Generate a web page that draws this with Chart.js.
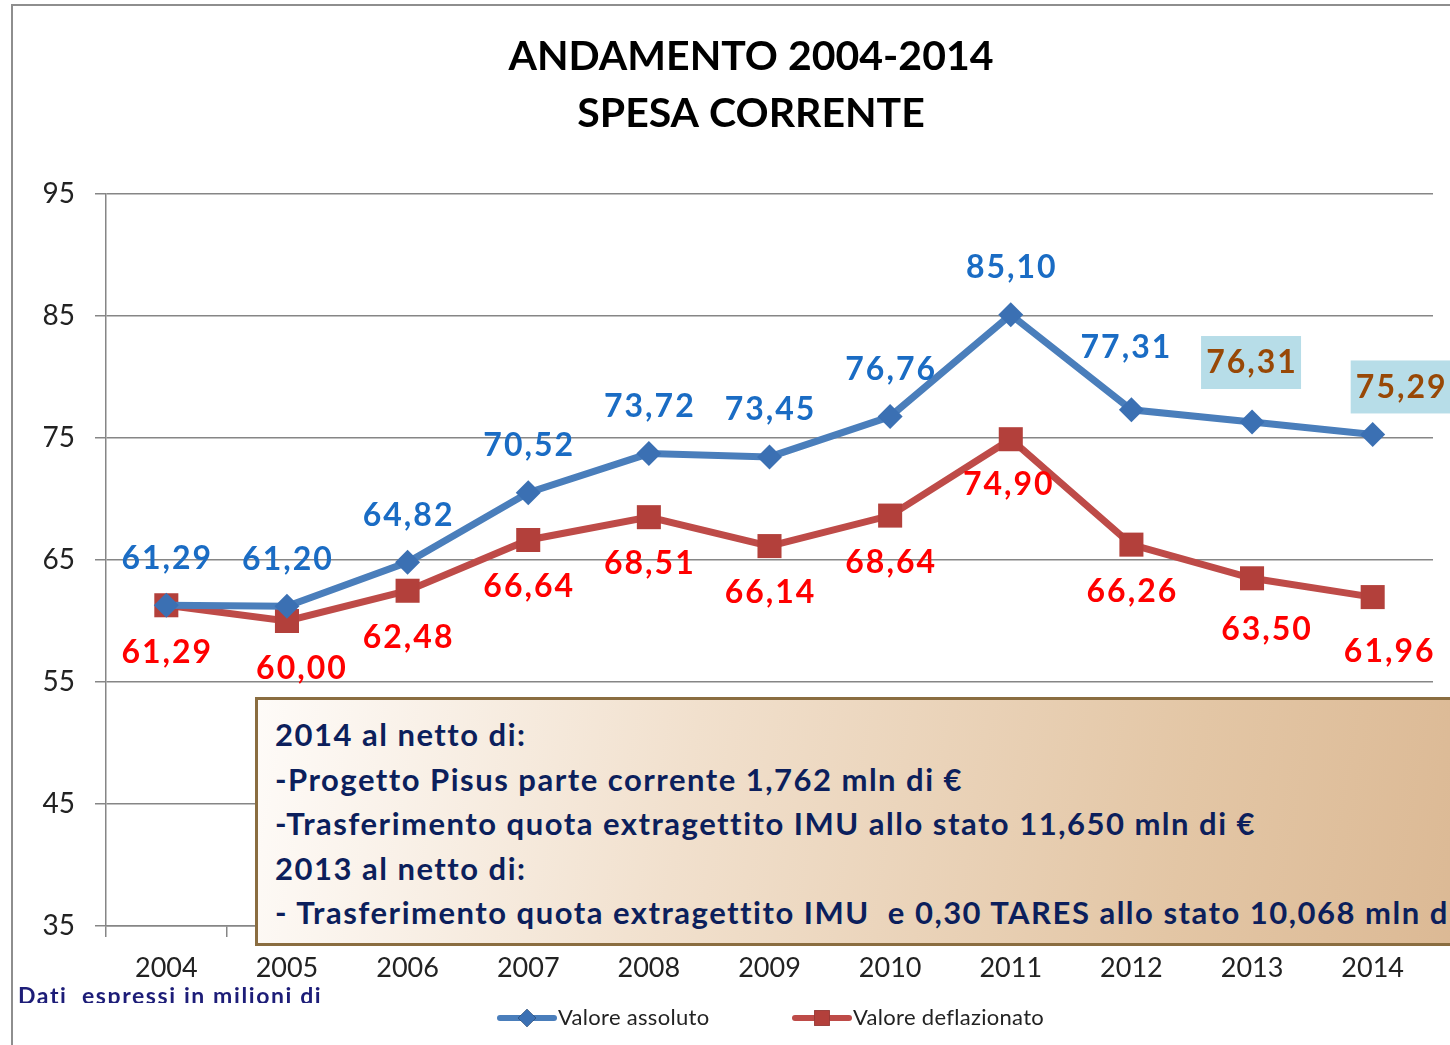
<!DOCTYPE html>
<html>
<head>
<meta charset="utf-8">
<script src="https://cdn.jsdelivr.net/npm/chart.js@4/dist/chart.umd.min.js"></script>
<style>
  html, body { margin: 0; padding: 0; background: #fff; overflow: hidden; }
  #wrap { position: relative; width: 1450px; height: 1045px; overflow: hidden; }
  #frame { position: absolute; left: 11px; top: 4px; width: 1500px; height: 1100px;
           border-left: 2px solid #8e8e8e; border-top: 2px solid #8e8e8e; }
  canvas { position: absolute; left: 0; top: 0; }
  #note { position: absolute; left: 255px; top: 697px; width: 1230px; height: 249px;
          box-sizing: border-box; border: 3px solid #8a6d40;
          background: linear-gradient(100deg, #fefbf8 0%, #f1e0cd 35%, #e3c6a5 75%, #dbb893 100%);
          font: bold 31px Lato, sans-serif; letter-spacing: 1.5px; color: #0c1f5c; line-height: 44.5px;
          padding: 12px 0 0 17px; white-space: nowrap; overflow: hidden; }
  #units { position: absolute; left: 18px; top: 982px; height: 21px; overflow: hidden;
           font: bold 23px Lato, sans-serif; letter-spacing: 1.6px; color: #1d1d78; line-height: 26px; white-space: nowrap; }
</style>
</head>
<body>
<div id="wrap">
  <div id="frame"></div>
  <canvas id="line-chart" width="1450" height="1045"></canvas>
  <div id="units">Dati&nbsp; espressi in milioni di</div>
  <div id="note">
    2014 al netto di:<br>
    -Progetto Pisus parte corrente 1,762 mln di €<br>
    -Trasferimento quota extragettito IMU allo stato 11,650 mln di €<br>
    2013 al netto di:<br>
    - Trasferimento quota extragettito IMU&nbsp; e 0,30 TARES allo stato 10,068 mln di €
  </div>
</div>
<script>
// Dataset
const years = ["2004", "2005", "2006", "2007", "2008", "2009", "2010", "2011", "2012", "2013", "2014"];
const valoreAssoluto = [61.29, 61.2, 64.82, 70.52, 73.72, 73.45, 76.76, 85.1, 77.31, 76.31, 75.29];
const valoreDeflazionato = [61.29, 60.0, 62.48, 66.64, 68.51, 66.14, 68.64, 74.9, 66.26, 63.5, 61.96];
const yTicks = [35, 45, 55, 65, 75, 85, 95];
const titleLines = ["ANDAMENTO 2004-2014", "SPESA CORRENTE"];

const GRID = "#868686";
const FONT = "Lato, sans-serif";

const fmt = (v) => v.toFixed(2).replace(".", ",");

// title is drawn by hand so it can sit off the plot centre like the original
const bigTitle = {
  id: "bigTitle",
  afterDraw(chart, args, opts) {
    const ctx = chart.ctx;
    ctx.save();
    ctx.font = "bold 41px " + FONT;
    ctx.fillStyle = "#000";
    ctx.textAlign = "center";
    ctx.textBaseline = "middle";
    opts.text.forEach((t, i) => ctx.fillText(t, opts.x, opts.y + i * 57));
    ctx.restore();
  },
};

// value labels above / below the points
const valueLabels = {
  id: "valueLabels",
  afterDatasetsDraw(chart, args, opts) {
    const ctx = chart.ctx;
    ctx.save();
    ctx.font = "bold 32px " + FONT;
    ctx.letterSpacing = "2px";
    ctx.textAlign = "center";
    ctx.textBaseline = "middle";
    chart.data.datasets.forEach((ds, i) => {
      const cfg = opts.series[i];
      chart.getDatasetMeta(i).data.forEach((pt, j) => {
        const n = cfg.nudge[j] || [0, 0];
        const x = pt.x + n[0];
        const y = pt.y + cfg.dy + n[1];
        const txt = fmt(ds.data[j]);
        if (cfg.highlight && cfg.highlight.includes(j)) {
          ctx.fillStyle = "#b7dde8";
          ctx.fillRect(x - 50, y - 27, 100, 53);
          ctx.fillStyle = "#984806";
        } else {
          ctx.fillStyle = cfg.color;
        }
        ctx.fillText(txt, x + 1, y);
      });
    });
    ctx.restore();
  },
};

// Excel style legend: line with marker, then text
const lineLegend = {
  id: "lineLegend",
  afterDraw(chart, args, opts) {
    const ctx = chart.ctx;
    ctx.save();
    chart.data.datasets.forEach((ds, i) => {
      const x0 = opts.x[i];
      const y = opts.y;
      ctx.strokeStyle = ds.borderColor;
      ctx.lineWidth = 6;
      ctx.lineCap = "round";
      ctx.beginPath();
      ctx.moveTo(x0, y);
      ctx.lineTo(x0 + 54, y);
      ctx.stroke();
      Chart.helpers.drawPoint(ctx, { pointStyle: ds.pointStyle, radius: ds.pointStyle === "rect" ? 11 : 9, borderWidth: 0 }, x0 + 27, y);
      ctx.fillStyle = ds.pointBackgroundColor;
      ctx.fill();
      ctx.fillStyle = "#222";
      ctx.font = "22px " + FONT;
      ctx.letterSpacing = "0.3px";
      ctx.textBaseline = "middle";
      ctx.fillText(ds.label, x0 + 58, y);
    });
    ctx.restore();
  },
};

new Chart(document.getElementById("line-chart"), {
  type: "line",
  data: {
    labels: years,
    datasets: [
      {
        label: "Valore assoluto",
        data: valoreAssoluto,
        borderColor: "#4a7ebb",
        borderWidth: 7,
        pointStyle: "rectRot",
        pointRadius: 12.5,
        pointBackgroundColor: "#3b70b3",
        pointBorderWidth: 0,
        tension: 0,
      },
      {
        label: "Valore deflazionato",
        data: valoreDeflazionato,
        borderColor: "#be4b48",
        borderWidth: 7,
        pointStyle: "rect",
        pointRadius: 17,
        pointBackgroundColor: "#b3403b",
        pointBorderWidth: 0,
        tension: 0,
      },
    ],
  },
  options: {
    responsive: false,
    animation: false,
    layout: { padding: { left: 0, right: 12.5, top: 194, bottom: 0 } },
    plugins: {
      legend: { display: false },
      tooltip: { enabled: false },
      title: { display: false },
      bigTitle: { text: titleLines, x: 751, y: 57 },
      valueLabels: {
        series: [
          { color: "#1a6cc4", dy: -47, nudge: { 8: [-6, -15], 9: [-1, -12], 10: [28, 0] }, highlight: [9, 10] },
          { color: "#ff0000", dy: 47, nudge: { 1: [14, 1], 7: [-3, -2], 9: [14, 4], 10: [16, 8] } },
        ],
      },
      lineLegend: { x: [500, 795], y: 1018 },
    },
    scales: {
      x: {
        offset: true,
        grid: { offset: true, drawOnChartArea: false, color: GRID, lineWidth: 1.5, tickLength: 11 },
        border: { color: GRID, width: 1.5 },
        ticks: { color: "#222", font: { family: FONT, size: 27 }, padding: 15, maxRotation: 0 },
        afterFit(scale) { scale.height = 119; },
      },
      y: {
        min: 35,
        max: 95,
        afterBuildTicks(scale) { scale.ticks = yTicks.map((v) => ({ value: v })); },
        grid: { color: GRID, lineWidth: 1.5, tickLength: 11 },
        border: { color: GRID, width: 1.5 },
        ticks: { color: "#222", font: { family: FONT, size: 28 }, padding: 20 },
        afterFit(scale) { scale.width = 106; },
      },
    },
  },
  plugins: [bigTitle, valueLabels, lineLegend],
});
</script>
</body>
</html>
